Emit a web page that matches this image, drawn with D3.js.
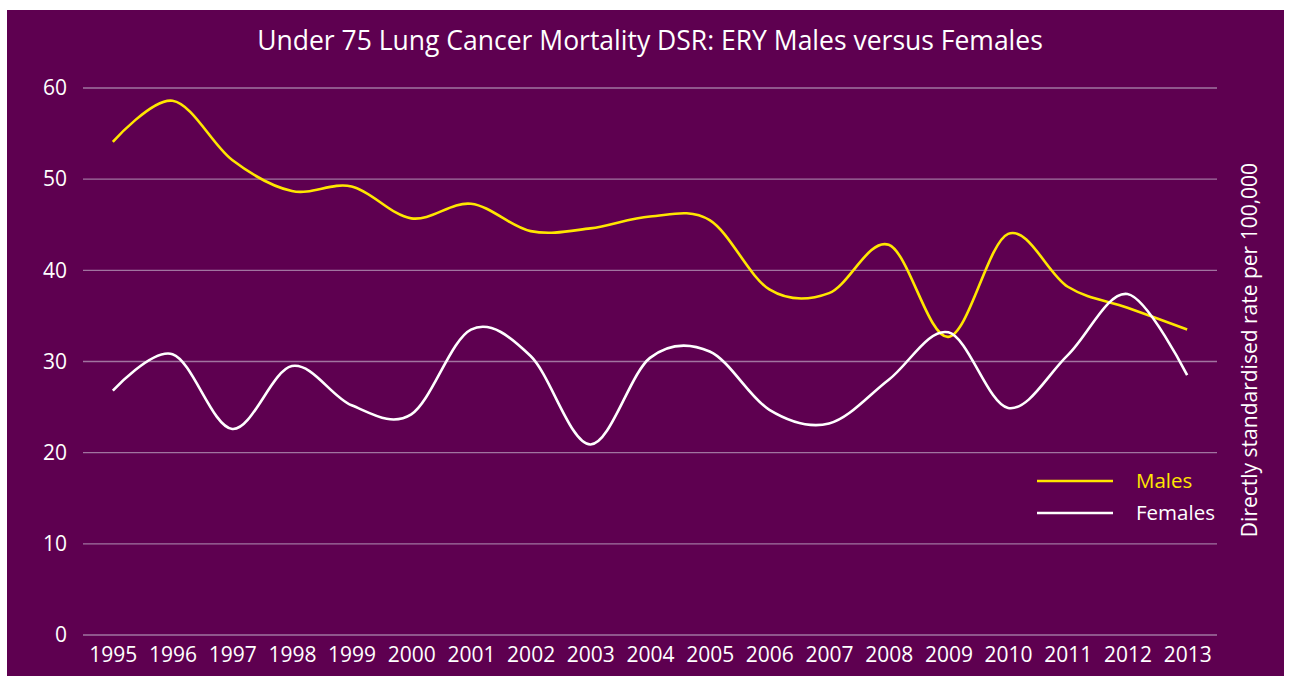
<!DOCTYPE html>
<html>
<head>
<meta charset="utf-8">
<script src="https://cdn.jsdelivr.net/npm/d3@7"></script>
<style>
  html, body { margin: 0; padding: 0; background: #fff; }
  svg { display: block; font-family: "Open Sans", Lato, sans-serif; }
</style>
</head>
<body>
<svg id="chart" width="1291" height="683"></svg>
<script>
// data
var years = ["1995","1996","1997","1998","1999","2000","2001","2002","2003","2004",
             "2005","2006","2007","2008","2009","2010","2011","2012","2013"];
var males   = [54.1, 58.6, 52.1, 48.7, 49.2, 45.7, 47.3, 44.3, 44.6, 45.9,
               45.5, 37.9, 37.5, 42.8, 32.7, 44.0, 38.2, 35.9, 33.5];
var females = [26.8, 30.8, 22.6, 29.5, 25.2, 24.2, 33.5, 30.6, 20.9, 30.4,
               31.1, 24.7, 23.2, 28.0, 33.2, 24.9, 30.7, 37.4, 28.5];
var yTicks = [0, 10, 20, 30, 40, 50, 60];

var seriesNames = ["Males", "Females"];
var seriesColors = ["#ffe600", "#ffffff"];

(function draw(){
  var svg = d3.select("#chart");
  var W = 1291, H = 683;
  var bg = "#5e0050";
  var font = "'Open Sans', sans-serif";

  // purple panel inside a thin white frame
  svg.append("rect")
    .attr("x", 7).attr("y", 10)
    .attr("width", W - 14).attr("height", H - 17)
    .attr("fill", bg);

  var plotLeft = 83, plotRight = 1217, plotTop = 88, plotBottom = 635;

  var x = d3.scalePoint()
    .domain(years)
    .range([plotLeft, plotRight])
    .padding(0.5);

  var y = d3.scaleLinear()
    .domain([0, 60])
    .range([plotBottom, plotTop]);

  // gridlines
  svg.append("g")
    .selectAll("line")
    .data(yTicks)
    .join("line")
    .attr("x1", plotLeft).attr("x2", plotRight)
    .attr("y1", function(d){ return y(d); })
    .attr("y2", function(d){ return y(d); })
    .attr("stroke", "#a174a0")
    .attr("stroke-width", 1.3);

  // y axis labels
  var yAxis = d3.axisLeft(y).tickValues(yTicks).tickSize(0).tickPadding(16);
  svg.append("g")
    .attr("transform", "translate(" + plotLeft + ",0)")
    .call(yAxis)
    .call(function(g){ g.select(".domain").remove(); })
    .selectAll("text")
    .attr("fill", "#fff")
    .style("font-size", "21px")
    .style("font-family", font);

  // x axis labels
  var xAxis = d3.axisBottom(x).tickSize(0).tickPadding(12);
  svg.append("g")
    .attr("transform", "translate(0," + plotBottom + ")")
    .call(xAxis)
    .call(function(g){ g.select(".domain").remove(); })
    .selectAll("text")
    .attr("fill", "#fff")
    .style("font-size", "21px")
    .style("font-family", font);

  // smoothed lines
  var line = d3.line()
    .x(function(d, i){ return x(years[i]); })
    .y(function(d){ return y(d); })
    .curve(d3.curveCardinal.tension(0));

  [males, females].forEach(function(vals, i){
    svg.append("path")
      .datum(vals)
      .attr("d", line)
      .attr("fill", "none")
      .attr("stroke", seriesColors[i])
      .attr("stroke-width", 2.6);
  });

  // title
  svg.append("text")
    .attr("x", 650).attr("y", 50)
    .attr("text-anchor", "middle")
    .attr("fill", "#fff")
    .style("font-size", "26.5px")
    .text("Under 75 Lung Cancer Mortality DSR: ERY Males versus Females");

  // right axis title
  svg.append("text")
    .attr("transform", "translate(1257,350) rotate(-90)")
    .attr("text-anchor", "middle")
    .attr("fill", "#fff")
    .style("font-size", "21px")
    .text("Directly standardised rate per 100,000");

  // legend
  var legend = svg.append("g").attr("transform", "translate(1037,481)");
  seriesNames.forEach(function(name, i){
    var g = legend.append("g").attr("transform", "translate(0," + (i * 32) + ")");
    g.append("line")
      .attr("x1", 0).attr("x2", 76)
      .attr("stroke", seriesColors[i])
      .attr("stroke-width", 2.6);
    g.append("text")
      .attr("x", 99).attr("y", 7)
      .attr("fill", seriesColors[i])
      .style("font-size", "20.5px")
      .text(name);
  });
})();
</script>
</body>
</html>
